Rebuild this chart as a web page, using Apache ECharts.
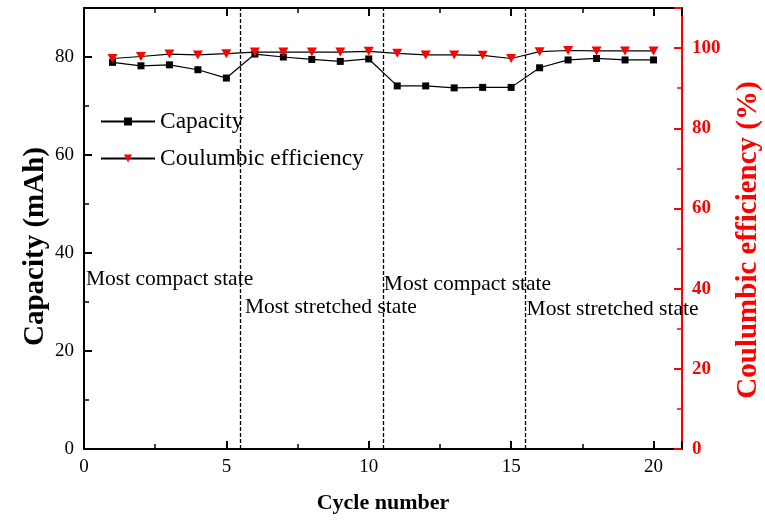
<!DOCTYPE html>
<html>
<head>
<meta charset="utf-8">
<script src="https://cdn.jsdelivr.net/npm/echarts@6/dist/echarts.min.js"></script>
<style>
  html, body { margin: 0; padding: 0; background: #fff; }
  #chart { width: 765px; height: 527px; }
</style>
</head>
<body>
<div id="chart"></div>
<script>
// Cycle index for each measurement
const cycles = [1, 2, 3, 4, 5, 6, 7, 8, 9, 10, 11, 12, 13, 14, 15, 16, 17, 18, 19, 20];
// Discharge capacity per cycle (mAh)
const capacity = [78.9, 78.2, 78.4, 77.4, 75.7, 80.6, 80.0, 79.5, 79.1, 79.6,
                  74.1, 74.1, 73.7, 73.8, 73.8, 77.8, 79.4, 79.7, 79.4, 79.4];
// Coulombic efficiency per cycle (%)
const efficiency = [97.4, 97.9, 98.5, 98.3, 98.6, 99.0, 99.0, 99.0, 99.0, 99.2,
                    98.7, 98.3, 98.3, 98.2, 97.4, 99.1, 99.4, 99.3, 99.3, 99.3];
// State boundaries (cycle positions of the dashed separators)
const boundaries = [5.5, 10.5, 15.5];
// State annotations: [cycle, capacity-axis value, text]
const stateNotes = [
  [0.07, 34.6, 'Most compact state'],
  [5.65, 28.9, 'Most stretched state'],
  [10.53, 33.7, 'Most compact state'],
  [15.54, 28.4, 'Most stretched state']
];
// Axis tick label values
const xTicks = [0, 5, 10, 15, 20];
const capTicks = [0, 20, 40, 60, 80];
const effTicks = [0, 20, 40, 60, 80, 100];

const serif = 'Liberation Serif, Times New Roman, serif';
const chart = echarts.init(document.getElementById('chart'), null, { renderer: 'canvas' });

const pairs = (ys) => cycles.map((c, i) => [c, ys[i]]);

function axisCommon(color) {
  return {
    axisLine: { show: true, onZero: false, lineStyle: { color: color, width: 2 } },
    axisTick: { show: true, inside: true, length: 8, lineStyle: { color: color, width: 2 } },
    minorTick: { show: true, splitNumber: 2, length: 5, lineStyle: { color: color, width: 1.5 } },
    splitLine: { show: false }
  };
}

chart.setOption({
  animation: false,
  backgroundColor: '#ffffff',
  grid: {
    left: 84, right: 83, top: 8, bottom: 78,
    containLabel: false, outerBoundsMode: 'none'
  },
  legend: {
    orient: 'vertical',
    left: 100,
    top: 109,
    padding: 0,
    itemWidth: 54,
    itemHeight: 10,
    itemGap: 12,
    textStyle: { fontFamily: serif, fontSize: 23.5, color: '#000', lineHeight: 25 },
    data: ['Capacity', 'Coulumbic efficiency']
  },
  xAxis: [
    Object.assign(axisCommon('#000'), {
      type: 'value', position: 'bottom', min: 0, max: 21, interval: 5,
      name: 'Cycle number', nameLocation: 'middle', nameGap: 43,
      nameTextStyle: { fontFamily: serif, fontSize: 22, fontWeight: 'bold', color: '#000' },
      axisLabel: {
        margin: 9, fontFamily: serif, fontSize: 19, color: '#000',
        formatter: (v) => (xTicks.indexOf(v) >= 0 ? String(v) : '')
      }
    }),
    Object.assign(axisCommon('#000'), {
      type: 'value', position: 'top', min: 0, max: 21, interval: 5,
      axisLabel: { show: false }
    })
  ],
  yAxis: [
    Object.assign(axisCommon('#000'), {
      type: 'value', position: 'left', min: 0, max: 90, interval: 20,
      name: 'Capacity (mAh)', nameLocation: 'middle', nameGap: 34,
      nameMoveOverlap: false,
      nameTextStyle: {
        fontFamily: serif, fontSize: 29, fontWeight: 'bold', color: '#000',
        padding: [0, 36, 0, 0]
      },
      axisLabel: {
        margin: 10, fontFamily: serif, fontSize: 19, color: '#000',
        formatter: (v) => (capTicks.indexOf(v) >= 0 ? String(v) : '')
      }
    }),
    Object.assign(axisCommon('#ff0000'), {
      type: 'value', position: 'right', min: 0, max: 110, interval: 20,
      name: 'Coulumbic efficiency (%)', nameLocation: 'middle', nameGap: 52,
      nameTextStyle: {
        fontFamily: serif, fontSize: 29, fontWeight: 'bold', color: '#ff0000',
        padding: [0, 23, 0, 0]
      },
      axisLabel: {
        margin: 10, fontFamily: serif, fontSize: 19, fontWeight: 'bold', color: '#ff0000',
        formatter: (v) => (effTicks.indexOf(v) >= 0 ? String(v) : '')
      }
    })
  ],
  series: [
    {
      name: 'Capacity',
      type: 'line',
      xAxisIndex: 0, yAxisIndex: 0,
      data: pairs(capacity),
      symbol: 'rect', symbolSize: 7,
      lineStyle: { color: '#000', width: 1.2 },
      itemStyle: { color: '#000' },
      z: 3,
      markLine: {
        silent: true,
        symbol: ['none', 'none'],
        label: { show: false },
        lineStyle: { color: '#000', type: [4, 2], width: 1.3 },
        emphasis: { disabled: true },
        data: boundaries.map((b) => ({ xAxis: b }))
      }
    },
    {
      name: 'Coulumbic efficiency',
      type: 'line',
      xAxisIndex: 0, yAxisIndex: 1,
      data: pairs(efficiency),
      symbol: 'triangle', symbolRotate: 180, symbolSize: [10, 9],
      lineStyle: { color: '#000', width: 1.2 },
      itemStyle: { color: '#ff0000' },
      z: 4
    },
    {
      name: 'notes',
      type: 'scatter',
      xAxisIndex: 0, yAxisIndex: 0,
      symbolSize: 0,
      silent: true,
      data: stateNotes.map((n) => ({ value: [n[0], n[1]], name: n[2] })),
      label: {
        show: true, position: 'right', distance: 0,
        formatter: (p) => p.name,
        fontFamily: serif, fontSize: 21.5, color: '#000',
        textBorderWidth: 0, textBorderColor: 'transparent', opacity: 1
      },
      itemStyle: { opacity: 1 },
      z: 5
    }
  ]
});
</script>
</body>
</html>
